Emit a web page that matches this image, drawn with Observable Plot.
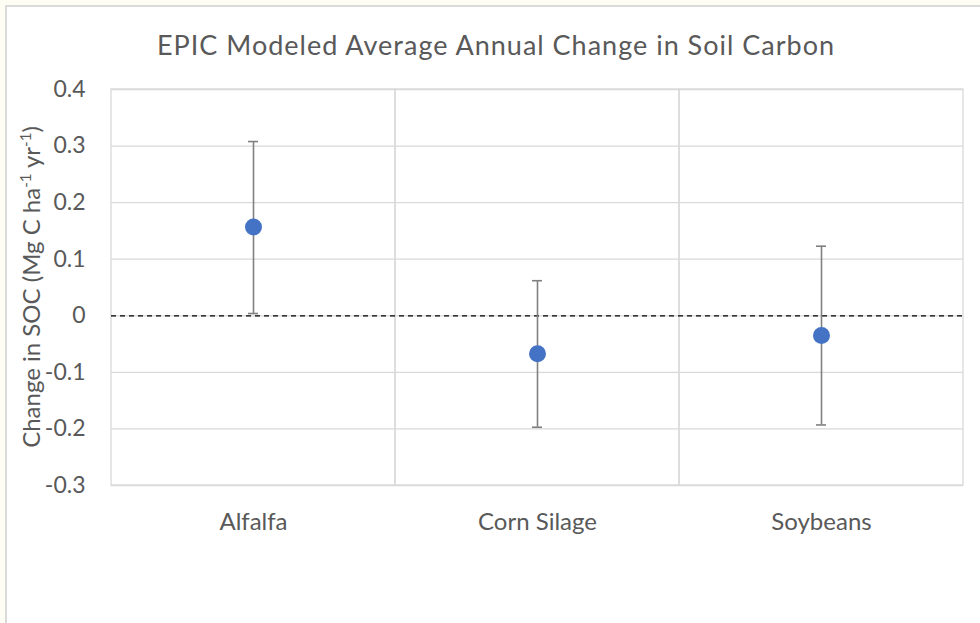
<!DOCTYPE html>
<html>
<head>
<meta charset="utf-8">
<script src="https://cdn.jsdelivr.net/npm/d3@7"></script>
<script src="https://cdn.jsdelivr.net/npm/@observablehq/plot@0.6"></script>
<style>
  html, body { margin: 0; padding: 0; width: 980px; height: 623px; overflow: hidden; background: #fdfdf3; }
  #card { position: absolute; left: 5px; top: 5px; width: 975px; height: 618px; background: #fff;
          border-left: 2px solid #dadada; border-top: 2px solid #dadada; box-sizing: border-box; }
  #title { position: absolute; left: 12px; width: 968px; top: 31px; text-align: center; letter-spacing: 1px;
           font-family: Lato, "Open Sans", sans-serif; font-size: 27px; line-height: 27px; color: #595959; }
  #chart { position: absolute; left: 0; top: 60px; }
</style>
</head>
<body>
<div id="card"></div>
<div id="title">EPIC Modeled Average Annual Change in Soil Carbon</div>
<div id="chart"></div>
<script>
const categories = ["Alfalfa", "Corn Silage", "Soybeans"];
const means = [0.157, -0.067, -0.035];
const lows = [0.004, -0.197, -0.193];
const highs = [0.308, 0.062, 0.123];
const yTicks = [-0.3, -0.2, -0.1, 0, 0.1, 0.2, 0.3, 0.4];
const yTitle = ["Change in SOC (Mg C ha", "-1", " yr", "-1", ")"];

const data = categories.map((c, i) => ({cat: c, mean: means[i], lo: lows[i], hi: highs[i]}));
const yMin = yTicks[0], yMax = yTicks[yTicks.length - 1];

const chart = Plot.plot({
  width: 980, height: 563,
  marginLeft: 111, marginRight: 17, marginTop: 29, marginBottom: 138,
  style: {fontFamily: "Lato, 'Open Sans', sans-serif", fontSize: "23px", color: "#595959", background: "transparent", overflow: "visible"},
  x: {domain: categories, padding: 0, label: null, axis: null},
  y: {domain: [yMin, yMax], label: null, axis: null},
  marks: [
    Plot.ruleY(yTicks, {stroke: "#d9d9d9", strokeWidth: 1.3}),
    Plot.barY(data, {x: "cat", y1: () => yMin, y2: () => yMax, fill: "none", stroke: "#d9d9d9", strokeWidth: 1.3, inset: 0}),
    Plot.axisY(yTicks, {tickSize: 0, tickPadding: 26, fontSize: 23, tickFormat: d => d === 0 ? "0" : d.toFixed(1), label: null}),
    Plot.axisX({tickSize: 0, tickPadding: 27, fontSize: 24, label: null}),
    Plot.ruleY([0], {stroke: "#000", strokeWidth: 1.3, strokeDasharray: "5,4"}),
    Plot.ruleX(data, {x: "cat", y1: "lo", y2: "hi", stroke: "#808080", strokeWidth: 1.6}),
    Plot.tickY(data, {x: "cat", y: "lo", stroke: "#808080", strokeWidth: 1.6, insetLeft: 137, insetRight: 137}),
    Plot.tickY(data, {x: "cat", y: "hi", stroke: "#808080", strokeWidth: 1.6, insetLeft: 137, insetRight: 137}),
    Plot.dot(data, {x: "cat", y: "mean", r: 8.5, fill: "#4472c4", stroke: "none"})
  ]
});

document.getElementById("chart").appendChild(chart);

const ys = chart.scale("y");
const yMid = (ys.apply(yMin) + ys.apply(yMax)) / 2;
const t = d3.select(chart).append("text")
  .attr("transform", `translate(40, ${yMid}) rotate(-90)`)
  .attr("text-anchor", "middle")
  .attr("fill", "#595959")
  .attr("font-size", 24);
yTitle.forEach((s, i) => {
  const sup = i % 2 === 1;
  t.append("tspan")
    .attr("font-size", sup ? 15 : 24)
    .attr("dy", sup ? "-0.6em" : (i > 0 ? "0.375em" : null))
    .text(s);
});
</script>
</body>
</html>
